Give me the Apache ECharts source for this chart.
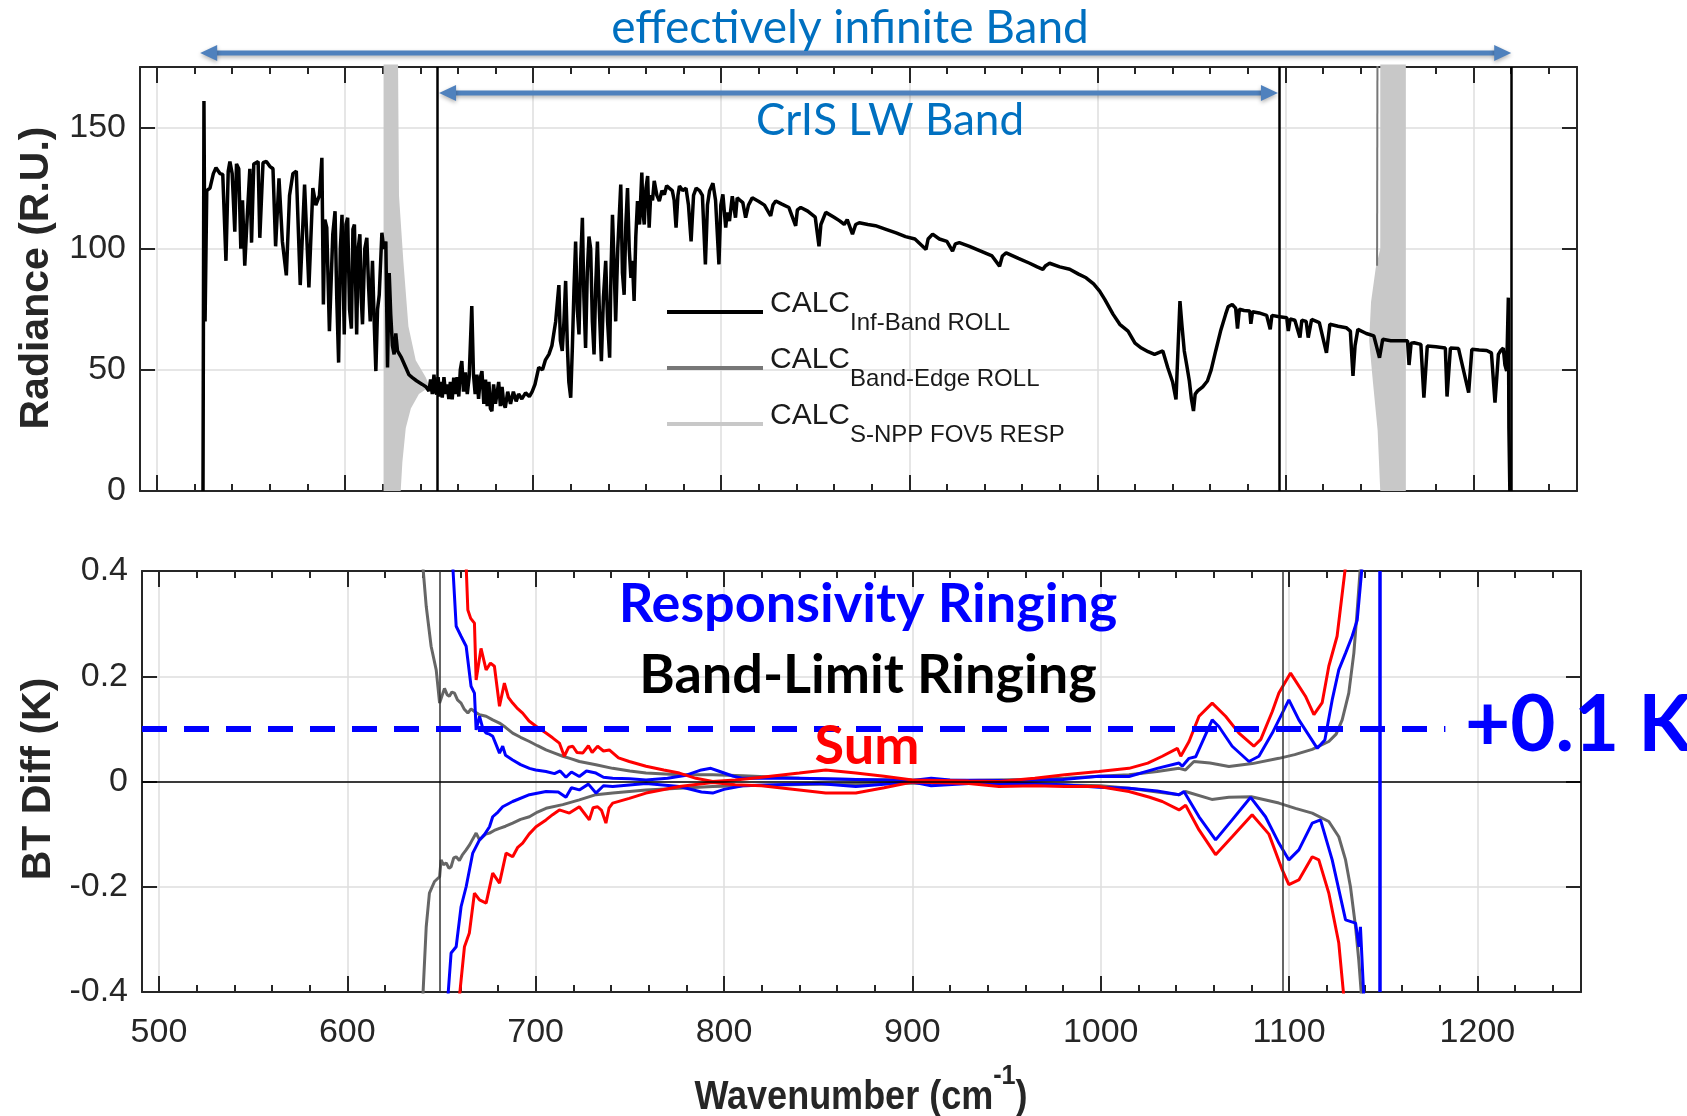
<!DOCTYPE html>
<html>
<head>
<meta charset="utf-8">
<title>CrIS LW ringing</title>
<script src="https://cdn.jsdelivr.net/npm/echarts@6/dist/echarts.min.js"></script>
<style>
  html, body { margin: 0; padding: 0; background: #fff; }
  #chart { width: 1687px; height: 1116px; }
</style>
</head>
<body>
<div id="chart"></div>
<script>
// ---- axes / ticks ----
const xRange = [491, 1255];
const majorTicks = [500, 600, 700, 800, 900, 1000, 1100, 1200];
const minorTicks = [500, 520, 540, 560, 580, 600, 620, 640, 660, 680, 700, 720, 740, 760, 780,
  800, 820, 840, 860, 880, 900, 920, 940, 960, 980, 1000, 1020, 1040, 1060, 1080, 1100,
  1120, 1140, 1160, 1180, 1200, 1220, 1240];
const radTicks = [0, 50, 100, 150];
const btTicks = [-0.4, -0.2, 0, 0.2, 0.4];

// ---- band markers (cm-1) ----
const lwBandEdges = [649, 1096.5];
const infBandLimit = 1220;
const respCutoff = 1148;
const infBandArrow = [523, 1220];
const lwBandArrow = [650, 1096];
const threshold = 0.1;
const thresholdEnd = 1183;

// ---- top panel: radiance (wavenumber, R.U.) ----
const infBandRoll = [[524.5,0],[525,161],[525.6,70],[526.5,124],[528.2,125],[530,131],[531.4,133.4],[533.5,131],[535,130.7],[536.7,95],[537.9,132],[538.8,136],[540,131],[541.4,107],[542.3,135],[543.5,133],[544.6,100],[545.5,120],[546.7,93],[548,113],[549.4,133],[550.3,102.5],[551.5,135],[553.8,136],[554.7,104.5],[556.4,135.5],[558.2,136],[560,134],[561.7,133],[563.1,101],[564.9,129],[566.7,103],[568.8,89],[570.5,122],[572.3,131],[574.1,132],[576.2,85],[578.5,126.5],[580.8,84],[582.9,125],[584.5,118],[586.4,122],[587.7,137.5],[588.5,77],[589.3,112],[590.3,108.7],[591.7,66],[593.5,106],[594.7,115.5],[595.6,80],[596.6,53],[597.5,100],[598.4,114],[599.6,64.6],[600.5,110],[601.4,112.8],[602.4,75],[603.4,67],[604.2,108],[605,110],[606.2,64.6],[607,100],[607.9,106],[608.6,80],[609.3,68.8],[610.5,100],[611.6,104.5],[612.5,85],[613.4,70],[614.6,95],[615.5,70],[616.4,49.5],[617.3,75],[618.2,81],[619.6,106.6],[620.6,100],[621.7,103],[622.6,51],[623.5,90],[624.3,73],[625.2,60],[626.1,56.4],[627,65],[627.9,57.8],[630,55],[632.3,51],[634,48],[635.8,46.8],[638,45.5],[641.1,44],[643,43],[644.6,41.3],[645.5,46],[646.4,40],[647.3,48],[648,41],[648.7,40],[649.5,47],[650.3,39],[651,45],[651.7,38.5],[652.6,47],[653.5,40],[654.3,44],[655.2,38],[656,45],[657,37.8],[657.8,46.8],[658.7,40],[659.6,47],[660.5,39],[661.3,50],[662.1,53.6],[663,41],[664,49],[665,40],[666,47],[667.4,76.3],[668.3,48],[669.2,40],[670.1,48],[671,38],[672,47],[672.8,49.5],[673.8,36],[674.7,46],[675.6,35],[676.5,45],[677.3,34],[678.1,33],[679,44],[680,36],[681.7,45],[682.6,35],[683.5,43],[684.4,36],[685.2,34.4],[686.5,41],[688,36],[689.5,41],[691,37],[692.3,40],[694,38],[696,40.5],[698,39],[699.5,41],[701,44],[703,51],[705,50],[706.5,54],[708.4,56.4],[710,60],[711,65],[712,70],[713.7,85],[714.5,62],[715.5,57.8],[716.4,70],[717.3,86.7],[718.2,60],[719,45],[720,38.5],[720.9,60],[721.7,82.5],[722.6,103],[723.5,75],[724.4,64.6],[725.3,95],[726.2,112.8],[727,80],[727.9,59],[728.8,90],[729.7,105],[730.6,100],[731.5,70],[732.4,56.4],[733.3,85],[734.2,103],[735.2,75],[736.3,53.6],[737.4,80],[738.6,95],[739.6,70],[740.7,55],[741.4,90],[742.2,114],[743,95],[743.9,70],[745,100],[746.6,126.5],[747.5,90],[748.4,81],[749.3,110],[750.2,125],[751.1,100],[752,88],[752.8,95],[753.7,78.4],[754.6,105],[755.5,119.7],[756.6,110],[757.8,131.4],[758.4,115],[759.1,110],[760,125],[760.9,130],[761.7,108.7],[762.5,122],[763.5,120],[764.4,128],[765.8,122],[767.1,119.7],[768.5,124],[769.8,122.4],[771,126],[772.4,125],[774,124],[775,120],[776,108.7],[777,122],[777.8,125.9],[779.5,124],[781.3,125],[782.6,118],[784,103],[785.3,122],[786.7,125],[788.5,124],[790,122],[791.6,93.5],[792.7,118],[793.8,123.8],[795.6,127],[797,120],[798.8,93.5],[799.8,118],[800.9,122.4],[802.4,108.7],[803.2,115],[804.4,111.4],[805.9,121.7],[807.6,112.8],[808.5,121],[810,120],[811.5,119],[813,112.8],[814.5,118],[816.5,121],[820,119.5],[823,118],[826.3,113.5],[827.5,118],[829,119.7],[832,118.5],[836,117],[839.6,109.4],[840.5,116],[842.3,117],[846,115.5],[850,113],[852,101],[853,110],[855.6,115],[860,113],[863,111.5],[865.4,110],[867,112],[869.8,106],[871.5,110],[873.4,110.7],[878,110],[882,109.5],[887.6,108],[893,106.5],[898,105],[903,104],[908.9,99.7],[910,104],[912.4,106],[916,104],[920,103],[923,99],[924.5,102],[926.6,102.5],[932,101],[938,99],[944,97],[948,92.8],[949.5,97],[951.5,98.3],[958,96],[964,94],[968,92.5],[971,91.5],[972.5,93],[974.6,94],[980,92.5],[985.3,91.5],[990,89.5],[994,88],[998,85.5],[1001.2,82.5],[1004,79],[1008.3,73],[1011.9,68.8],[1016.3,66],[1020,61],[1023.4,59],[1027,57.5],[1030.4,56.4],[1034.8,57.8],[1037.4,51],[1040,45],[1041.8,37.8],[1043.9,78.4],[1045,68],[1046.2,57.8],[1047.5,52],[1048.9,45.4],[1050,38],[1051.1,33],[1052,40],[1053.3,41.3],[1056,43],[1058.5,45.4],[1060.5,50],[1062.9,57.8],[1065.5,66],[1068.2,73],[1069.5,76],[1071.7,77],[1073.5,75.5],[1074.5,67],[1075.5,75],[1078,74.5],[1081,74.3],[1081.6,69],[1082.5,74],[1086,73.5],[1090,72.5],[1091.9,66.7],[1092.8,72.5],[1096,72],[1100.7,71.5],[1101.5,66],[1102.5,71],[1105,70.5],[1107.7,63.3],[1108.7,70.5],[1111,70],[1112.1,63.3],[1113.9,70.8],[1118,69.5],[1121.8,57],[1123.6,68.8],[1128,68],[1132.3,67.4],[1134.5,66],[1135.9,47.5],[1137,60],[1138.5,66.7],[1143,65],[1147,64],[1150,55],[1151.7,62.6],[1156,62],[1160,62],[1164.9,62],[1165.7,52],[1166.8,61],[1168.4,61.2],[1172,60.5],[1173.6,38.5],[1175.4,59.8],[1180,59.5],[1185,59],[1185.9,39],[1187.7,59],[1192,58.8],[1197.4,40.6],[1199.1,58.5],[1203,58.2],[1207,58],[1209.5,57],[1211.4,36.5],[1213.2,56.4],[1214.5,58],[1215.8,59],[1216.7,52],[1217.6,49.5],[1218.5,79.8],[1218.8,26],[1219.3,0]];
const bandEdgeRoll = [[1148.7,93],[1148.9,176]];
// S-NPP responsivity curve rings so fast it shows as a filled envelope
const respEdgeLeft = [[620.5,176],[628.2,176],[628.7,122],[631,95],[633.7,68],[637.6,54],[642.9,47],[645,43],[639.3,40],[635,34],[632.3,26],[630.5,12],[629.6,0],[620.5,0]];
const respEdgeRight = [[1150.4,176],[1164,176],[1164,0],[1150.4,0],[1149,25],[1146.5,45],[1144.5,62],[1145.5,78],[1148,92],[1150.4,100]];

// ---- bottom panel: BT differences (wavenumber, K) ----
const bandLimitPos = [[640.1,0.41],[641.9,0.333],[644.5,0.257],[647.2,0.212],[649,0.149],[651.6,0.177],[653,0.165],[654.2,0.162],[655.5,0.17],[656.9,0.168],[658.5,0.155],[660.4,0.149],[662,0.138],[664,0.13],[665.7,0.138],[667.5,0.133],[670.2,0.127],[673.7,0.124],[677.2,0.117],[680.8,0.111],[684,0.103],[687.8,0.092],[692,0.084],[696.7,0.076],[701,0.068],[705.5,0.06],[710,0.054],[714.4,0.048],[719,0.043],[723.2,0.038],[732,0.032],[740.9,0.025],[750,0.02],[758.6,0.016],[776.3,0.013],[794,0.013],[810,0.011],[840,0.006],[870,0.004],[900,0.003],[930,0.002],[960,0.004],[981,0.006],[999,0.01],[1015,0.013],[1030,0.019],[1041.6,0.025],[1045,0.022],[1049.5,0.038],[1058,0.035],[1068.1,0.0285],[1080.5,0.034],[1094.6,0.044],[1103,0.051],[1112.3,0.061],[1121.1,0.076],[1125,0.09],[1128.2,0.117],[1131.7,0.168],[1134.4,0.244],[1136.2,0.326],[1137.9,0.41]];
const bandLimitNeg = [[640.1,-0.41],[641.9,-0.276],[643.6,-0.212],[646.3,-0.19],[649,-0.181],[649.8,-0.149],[651,-0.158],[652.5,-0.155],[654,-0.165],[655.1,-0.162],[656.5,-0.145],[657.8,-0.143],[659.5,-0.15],[661,-0.14],[663.1,-0.13],[665,-0.12],[666.5,-0.11],[668.4,-0.098],[670.2,-0.111],[672,-0.105],[673.5,-0.1],[675.5,-0.098],[678,-0.093],[680.8,-0.089],[684,-0.085],[687.8,-0.079],[692,-0.072],[696.7,-0.067],[701,-0.058],[705.5,-0.051],[714.4,-0.044],[723.2,-0.035],[732,-0.025],[740.9,-0.022],[758.6,-0.016],[776.3,-0.013],[794,-0.0095],[820,-0.007],[850,-0.005],[900,-0.003],[950,-0.004],[1000,-0.008],[1015,-0.013],[1030,-0.02],[1041.6,-0.025],[1045,-0.019],[1059,-0.034],[1068,-0.03],[1080,-0.029],[1094.6,-0.041],[1103.4,-0.051],[1112.3,-0.06],[1121.1,-0.076],[1126.4,-0.105],[1130,-0.149],[1132.6,-0.2],[1135.3,-0.276],[1137,-0.339],[1138.5,-0.41]];
const respPos = [[656,0.41],[657.8,0.295],[660.4,0.276],[663.1,0.257],[665.7,0.181],[667.5,0.168],[668.4,0.098],[670.2,0.124],[672,0.1],[673.7,0.092],[675.5,0.09],[677.2,0.086],[679,0.07],[680.8,0.054],[682.5,0.067],[684,0.05],[687.8,0.041],[692,0.032],[696.7,0.025],[700,0.022],[705.5,0.019],[710,0.015],[713,0.02],[716.1,0.008],[719,0.018],[723.2,0.0095],[727,0.02],[732,0.016],[736,0.008],[740.9,0.006],[750,0.005],[758.6,0.003],[770,0.006],[780,0.012],[788,0.022],[793,0.025],[797,0.02],[805,0.01],[810,0.006],[840,0.006],[870,0.004],[900,0.002],[910,0.006],[920,0.003],[950,0.002],[980,0.004],[999,0.01],[1015,0.0095],[1030,0.025],[1041.6,0.035],[1043.3,0.029],[1046.9,0.044],[1050.4,0.047],[1059.2,0.117],[1062.8,0.104],[1069.8,0.067],[1078.7,0.038],[1084,0.048],[1091.1,0.092],[1099.9,0.155],[1105.2,0.117],[1115,0.063],[1119,0.079],[1122.9,0.155],[1126.4,0.212],[1130,0.244],[1133.5,0.276],[1136.2,0.307],[1138.8,0.41]];
const respNeg = [[653.4,-0.41],[655.1,-0.326],[657.8,-0.314],[660.4,-0.238],[663.1,-0.2],[666.6,-0.136],[670.2,-0.111],[673,-0.1],[675.5,-0.086],[677.2,-0.067],[680,-0.058],[682.5,-0.048],[687.8,-0.038],[696.7,-0.025],[705.5,-0.019],[712,-0.02],[716.1,-0.03],[719,-0.012],[723.2,-0.016],[728,-0.005],[732,-0.022],[736,-0.008],[740.9,-0.0095],[758.6,-0.004],[776.3,-0.0095],[788,-0.02],[794,-0.022],[800,-0.015],[810,-0.008],[850,-0.004],[870,-0.0095],[900,-0.001],[910,-0.008],[930,-0.004],[960,-0.004],[980,-0.006],[999,-0.011],[1015,-0.013],[1030,-0.018],[1041.6,-0.025],[1044.2,-0.019],[1052.2,-0.067],[1061,-0.111],[1069.8,-0.073],[1079.6,-0.03],[1087.5,-0.067],[1094.6,-0.117],[1099.9,-0.149],[1105.2,-0.13],[1112.3,-0.079],[1116.7,-0.073],[1122.9,-0.149],[1130,-0.263],[1135.3,-0.269],[1137.1,-0.314],[1137.9,-0.276],[1139.7,-0.41]];
const sumPos = [[663.1,0.41],[664,0.326],[665.5,0.31],[667.5,0.301],[668.4,0.193],[671,0.253],[673.7,0.212],[676,0.225],[678.1,0.219],[680.8,0.143],[683.4,0.187],[685.5,0.16],[687.8,0.149],[690,0.14],[693.1,0.13],[696.5,0.115],[700.2,0.105],[705.5,0.092],[709,0.083],[712.6,0.073],[715.2,0.048],[717.5,0.065],[719.7,0.067],[722,0.055],[725,0.054],[728,0.068],[730,0.055],[732.9,0.067],[736,0.058],[739.1,0.06],[744,0.045],[749.7,0.038],[758.6,0.029],[768,0.022],[776.3,0.016],[785.1,0.006],[794,0],[806,0.003],[820,0.008],[840,0.016],[854,0.022],[870,0.016],[885,0.01],[900,0.003],[930,0.001],[946,0],[965,0.006],[981,0.013],[999,0.019],[1015,0.025],[1025,0.035],[1032.7,0.048],[1040.7,0.063],[1042.5,0.048],[1046.9,0.076],[1052.2,0.124],[1059.2,0.149],[1066.3,0.124],[1073.4,0.092],[1081.3,0.067],[1085,0.08],[1091.1,0.133],[1094.6,0.168],[1100.8,0.206],[1108.7,0.162],[1113.2,0.127],[1117.6,0.15],[1121.1,0.219],[1125.5,0.276],[1130,0.41]];
const sumNeg = [[659.5,-0.41],[662.2,-0.314],[664.8,-0.288],[667.5,-0.212],[670.2,-0.225],[673.7,-0.231],[677.2,-0.174],[680.8,-0.193],[684.3,-0.136],[687.8,-0.143],[690.5,-0.125],[693.1,-0.117],[696.5,-0.1],[700.2,-0.086],[705.5,-0.073],[709,-0.063],[712.6,-0.054],[717.9,-0.06],[723.2,-0.048],[728.5,-0.073],[730.5,-0.05],[732.9,-0.048],[735,-0.055],[737.3,-0.079],[739,-0.05],[740.9,-0.041],[749.7,-0.032],[758.6,-0.022],[776.3,-0.0095],[794,-0.002],[806,-0.006],[820,-0.008],[840,-0.016],[854,-0.022],[870,-0.022],[885,-0.012],[900,-0.001],[930,-0.004],[946,-0.0095],[965,-0.008],[981,-0.0095],[999,-0.0095],[1015,-0.019],[1026,-0.03],[1032.7,-0.038],[1041.6,-0.054],[1045.1,-0.045],[1052.2,-0.092],[1061,-0.139],[1069.8,-0.105],[1080.4,-0.063],[1089.3,-0.1],[1096.4,-0.168],[1099.9,-0.196],[1105.2,-0.187],[1112.3,-0.143],[1115.8,-0.149],[1121.1,-0.212],[1126.4,-0.307],[1129.1,-0.41]];

const SANS = "'Liberation Sans', Arial, sans-serif";
const CAL = "Lato, 'Open Sans', sans-serif";
const INK = '#262626';
const GRIDC = '#dedede';
const ARROW = '#4f81bd';

function xAx(grid, pos, ticks, len, main, labels) {
  return {
    type: 'value', gridIndex: grid, position: pos, min: xRange[0], max: xRange[1],
    axisLine: { show: main, onZero: false, lineStyle: { color: INK, width: 2 } },
    axisTick: { show: true, inside: true, length: len, customValues: ticks, lineStyle: { color: INK, width: 2 } },
    axisLabel: labels
      ? { show: true, customValues: majorTicks, margin: 24, color: INK, fontFamily: SANS, fontSize: 34,
          formatter: function (v) { return String(v); } }
      : { show: false },
    splitLine: { show: main && pos === 'bottom', lineStyle: { color: GRIDC, width: 1.5 } }
  };
}
function yAx(grid, pos, ticks, min, max, labels) {
  return {
    type: 'value', gridIndex: grid, position: pos, min: min, max: max,
    axisLine: { show: true, onZero: false, lineStyle: { color: INK, width: 2 } },
    axisTick: { show: true, inside: true, length: 15, customValues: ticks, lineStyle: { color: INK, width: 2 } },
    axisLabel: labels
      ? { show: true, customValues: ticks, margin: 14, color: INK, fontFamily: SANS, fontSize: 34 }
      : { show: false },
    splitLine: { show: pos === 'left', lineStyle: { color: GRIDC, width: 1.5 } }
  };
}

function plain(name, data, color, width, x, y) {
  return {
    name: name, type: 'line', data: data, xAxisIndex: x, yAxisIndex: y,
    symbol: 'none', animation: false, silent: true,
    lineStyle: { color: color, width: width }, itemStyle: { color: color }
  };
}

const respPolys = [respEdgeLeft, respEdgeRight];

const option = {
  animation: false,
  backgroundColor: '#fff',
  grid: [
    { left: 140, top: 67, width: 1437, height: 424 },
    { left: 142, top: 571, width: 1439, height: 421 }
  ],
  xAxis: [
    xAx(0, 'bottom', majorTicks, 16, true, false),
    xAx(0, 'bottom', minorTicks, 7, false, false),
    xAx(0, 'top', majorTicks, 16, true, false),
    xAx(0, 'top', minorTicks, 7, false, false),
    xAx(1, 'bottom', majorTicks, 16, true, true),
    xAx(1, 'bottom', minorTicks, 7, false, false),
    xAx(1, 'top', majorTicks, 16, true, false),
    xAx(1, 'top', minorTicks, 7, false, false)
  ],
  yAxis: [
    yAx(0, 'left', radTicks, 0, 175, true),
    yAx(0, 'right', radTicks, 0, 175, false),
    yAx(1, 'left', btTicks, -0.4, 0.4, true),
    yAx(1, 'right', btTicks, -0.4, 0.4, false)
  ],
  legend: {
    data: ['Inf-Band ROLL', 'Band-Edge ROLL', 'S-NPP FOV5 RESP'],
    orient: 'vertical', left: 662, top: 284,
    itemWidth: 96, itemHeight: 4, itemGap: 10, icon: 'rect',
    selectedMode: false,
    formatter: function (n) { return '{m|CALC}{s|' + n + '}'; },
    textStyle: {
      color: '#1a1a1a', padding: [0, 0, 0, 2],
      rich: {
        m: { fontFamily: SANS, fontSize: 30, color: '#1a1a1a', verticalAlign: 'top' },
        s: { fontFamily: SANS, fontSize: 24, color: '#1a1a1a', verticalAlign: 'top', padding: [22, 0, 0, 0] }
      }
    }
  },
  series: [
    {
      name: 'S-NPP FOV5 RESP', type: 'custom', xAxisIndex: 0, yAxisIndex: 0,
      data: [[0, 0], [1, 0]], silent: true, animation: false,
      itemStyle: { color: '#c8c8c8' },
      renderItem: function (params, api) {
        const pts = respPolys[params.dataIndex].map(function (p) { return api.coord(p); });
        return { type: 'polygon', shape: { points: pts }, style: { fill: '#c8c8c8' } };
      }
    },
    plain('Band-Edge ROLL', bandEdgeRoll, '#777', 2, 0, 0),
    Object.assign(plain('Inf-Band ROLL', infBandRoll, '#000', 3.5, 0, 0), {
      markLine: {
        symbol: ['none', 'none'], silent: true, label: { show: false }, animation: false,
        lineStyle: { color: '#000', width: 2.5, type: 'solid' },
        data: lwBandEdges.concat([infBandLimit]).map(function (v) { return { xAxis: v }; })
      }
    }),
    plain('Band-Limit +', bandLimitPos, '#666', 3, 4, 2),
    plain('Band-Limit -', bandLimitNeg, '#666', 3, 4, 2),
    plain('Responsivity +', respPos, '#0000ff', 3, 4, 2),
    plain('Responsivity -', respNeg, '#0000ff', 3, 4, 2),
    plain('Sum +', sumPos, '#ff0000', 3, 4, 2),
    Object.assign(plain('Sum -', sumNeg, '#ff0000', 3, 4, 2), {
      markLine: {
        symbol: ['none', 'none'], silent: true, label: { show: false }, animation: false,
        data: [
          { xAxis: lwBandEdges[0], lineStyle: { color: '#333', width: 1.5, type: 'solid' } },
          { xAxis: lwBandEdges[1], lineStyle: { color: '#333', width: 1.5, type: 'solid' } },
          { yAxis: 0, lineStyle: { color: '#000', width: 1.5, type: 'solid' } },
          [{ coord: [xRange[0], threshold], lineStyle: { color: '#0000ff', width: 6, type: [25, 17] } },
           { coord: [thresholdEnd, threshold] }],
          { xAxis: respCutoff, lineStyle: { color: '#0000ff', width: 3.5, type: 'solid' } }
        ]
      }
    })
  ]
};

const chart = echarts.init(document.getElementById('chart'));
chart.setOption(option);

// annotations: arrows placed through the top panel's x scale
function px(v) { return chart.convertToPixel({ xAxisIndex: 0 }, v); }
const shadow = { shadowBlur: 4, shadowColor: 'rgba(0,0,0,0.3)', shadowOffsetY: 2 };
function arrow(range, y) {
  const x1 = px(range[0]), x2 = px(range[1]), h = 8, L = 17;
  return {
    type: 'group', silent: true, children: [
      { type: 'line', shape: { x1: x1 + L - 2, y1: y, x2: x2 - L + 2, y2: y },
        style: Object.assign({ stroke: ARROW, lineWidth: 5 }, shadow) },
      { type: 'polygon', shape: { points: [[x1, y], [x1 + L, y - h], [x1 + L, y + h]] },
        style: Object.assign({ fill: ARROW }, shadow) },
      { type: 'polygon', shape: { points: [[x2, y], [x2 - L, y - h], [x2 - L, y + h]] },
        style: Object.assign({ fill: ARROW }, shadow) }
    ]
  };
}
function label(text, x, y, font, size, color, weight, align) {
  return {
    type: 'text', x: x, y: y, z: 10, silent: true,
    style: { text: text, fill: color, fontFamily: font, fontSize: size, fontWeight: weight || 'normal',
      align: align || 'center', verticalAlign: 'middle' }
  };
}

chart.setOption({
  graphic: [
    arrow(infBandArrow, 53),
    arrow(lwBandArrow, 93),
    label('effectively infinite Band', 850, 28, CAL, 46, '#0070c0'),
    label('CrIS LW Band', 890, 121, CAL, 44, '#0070c0'),
    label('Responsivity Ringing', 868, 605, CAL, 54, '#0000ff', 'bold'),
    label('Band-Limit Ringing', 868, 676, CAL, 54, '#000', 'bold'),
    label('Sum', 867, 747, CAL, 54, '#ff0000', 'bold'),
    label('+0.1 K', 1465, 726, CAL, 78, '#0000ff', 'bold', 'left'),
    Object.assign(label('Radiance (R.U.)', 37, 278, SANS, 41, INK, 'bold'), { rotation: Math.PI / 2 }),
    Object.assign(label('BT Diff (K)', 39, 779, SANS, 41, INK, 'bold'), { rotation: Math.PI / 2 }),
    {
      type: 'text', x: 861, y: 1062, z: 10, silent: true, scaleX: 0.9,
      style: {
        text: '{b|Wavenumber (cm}{u|-1}{b|)}', align: 'center', verticalAlign: 'top',
        rich: {
          b: { fontFamily: SANS, fontSize: 40, fontWeight: 'bold', fill: INK, verticalAlign: 'top', padding: [16, 0, 0, 0] },
          u: { fontFamily: SANS, fontSize: 28, fontWeight: 'bold', fill: INK, verticalAlign: 'top' }
        }
      }
    }
  ]
});
</script>
</body>
</html>
